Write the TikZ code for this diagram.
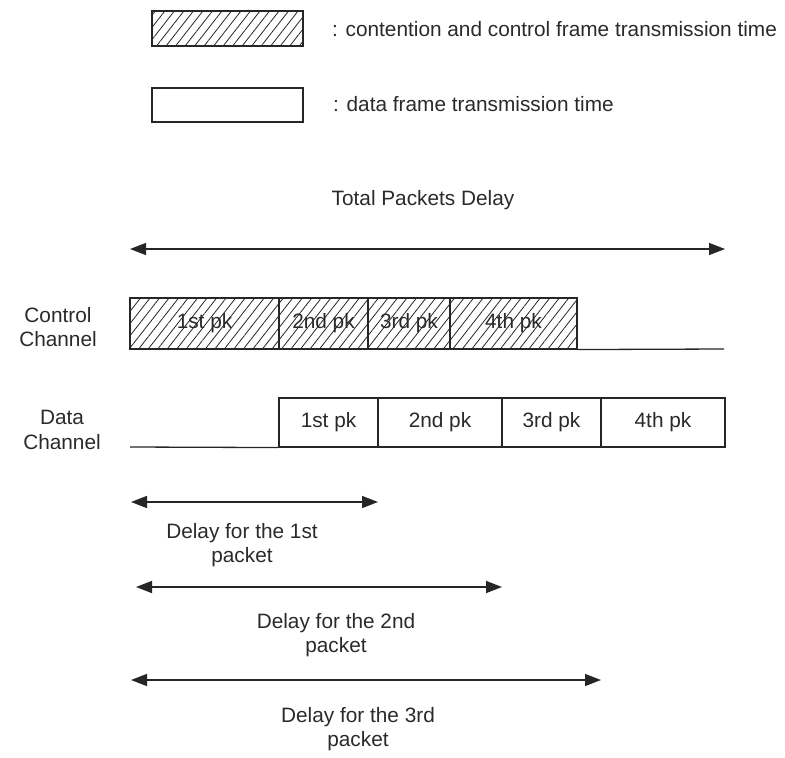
\documentclass[tikz,border=0pt]{standalone}
\usepackage{fontspec}
\setmainfont{Liberation Sans}
\usetikzlibrary{arrows.meta,patterns.meta}
\definecolor{ink}{HTML}{262626}
\definecolor{txt}{HTML}{2A2A2A}
\begin{document}
\begin{tikzpicture}[x=1pt,y=-1pt,
  every node/.style={font=\fontsize{20.8}{24.5}\selectfont, text=txt, inner sep=0pt},
  hbox/.style={draw=ink, line width=1.1pt, pattern={Lines[angle=52,distance=7.5pt,line width=0.8pt]}, pattern color=ink, minimum height=#1},
  wbox/.style={draw=ink, line width=1.1pt, fill=white, minimum height=#1},
  base/.style={draw=ink, line width=1.3pt},
  darr/.style={draw=ink, line width=1.5pt, {Triangle[length=16pt,width=12pt]}-{Triangle[length=16pt,width=12pt]}},
  lbl/.style={align=center}
]
\useasboundingbox (0,0) rectangle (785,758);

% legend
\node[hbox=35pt, minimum width=151pt] (lh) at (227.5,28.5) {};
\node[anchor=west] (lht) at (332,29) {: contention and control frame transmission time};
\node[wbox=34pt, minimum width=151pt] (lw) at (227.5,105) {};
\node[anchor=west] (lwt) at (333,104) {: data frame transmission time};

% total delay
\node (tot) at (423,200) {Total Packets Delay};
\coordinate (ta) at (130,249);
\coordinate (tb) at (725,249);
\draw[darr] (ta) -- (tb);

% control channel
\node[lbl] (cl) at (58,327) {Control\\Channel};
\node[hbox=51pt, minimum width=149pt] (c1) at (204.5,323.5) {1st pk};
\node[hbox=51pt, minimum width=89pt] (c2) at (323.5,323.5) {2nd pk};
\node[hbox=51pt, minimum width=82pt] (c3) at (409,323.5) {3rd pk};
\node[hbox=51pt, minimum width=127pt] (c4) at (513.5,323.5) {4th pk};
\coordinate (ce) at (724,349);
\draw[base] (c4.south east) -- (ce);

% data channel
\node[lbl] (dl) at (62,430) {Data\\Channel};
\node[wbox=49pt, minimum width=99pt] (d1) at (328.5,422.5) {1st pk};
\node[wbox=49pt, minimum width=124pt] (d2) at (440,422.5) {2nd pk};
\node[wbox=49pt, minimum width=99pt] (d3) at (551.5,422.5) {3rd pk};
\node[wbox=49pt, minimum width=124pt] (d4) at (663,422.5) {4th pk};
\coordinate (ds) at (130,447);
\draw[base] (ds) -- (d1.south west);

% delays
\coordinate (a1) at (131,502);
\coordinate (b1) at (378,502);
\draw[darr] (a1) -- (b1);
\node[lbl] (l1) at (242,545) {Delay for the 1st\\packet};

\coordinate (a2) at (136,587);
\coordinate (b2) at (502,587);
\draw[darr] (a2) -- (b2);
\node[lbl] (l2) at (336,635) {Delay for the 2nd\\packet};

\coordinate (a3) at (131,680);
\coordinate (b3) at (601,680);
\draw[darr] (a3) -- (b3);
\node[lbl] (l3) at (358,729) {Delay for the 3rd\\packet};
\end{tikzpicture}
\end{document}
